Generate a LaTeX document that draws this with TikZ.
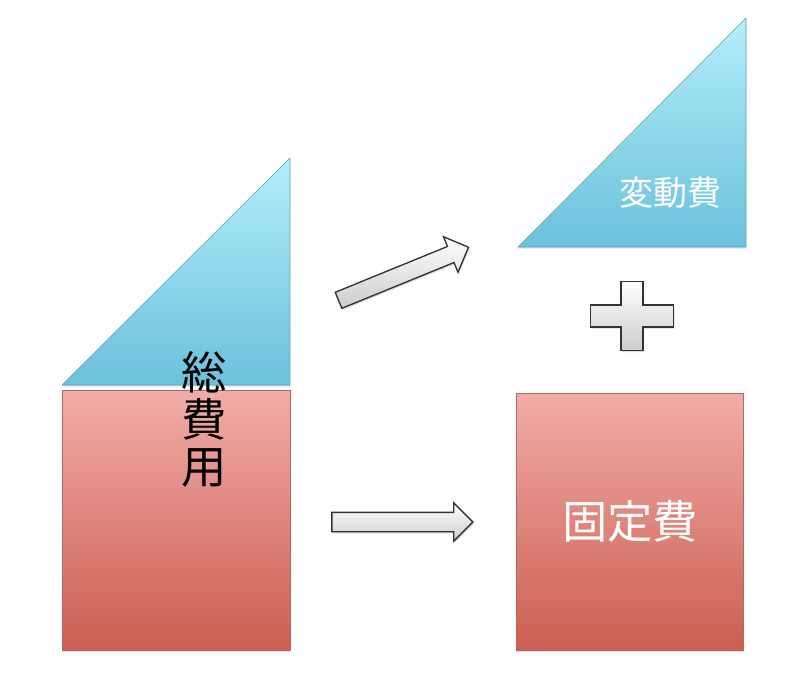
\documentclass[tikz,border=0pt]{standalone}
\usepackage{fontspec}
\setmainfont{Noto Sans CJK JP}
\usetikzlibrary{positioning,shapes.arrows,shadows}

\definecolor{skytop}{HTML}{B3EEFB}
\definecolor{skybot}{HTML}{6BC1DB}
\definecolor{rosetop}{HTML}{F2ADA8}
\definecolor{rosebot}{HTML}{CB5E51}

\tikzset{
  varwedge/.style={draw=skybot!85!black,line width=0.4pt,top color=skytop,bottom color=skybot,
    drop shadow={shadow xshift=0pt,shadow yshift=-1.2pt,opacity=0.25}},
  fixedbox/.style={rectangle,draw=rosebot!70!gray,line width=0.4pt,top color=rosetop,bottom color=rosebot,
    inner sep=0pt,drop shadow={shadow xshift=0pt,shadow yshift=-1.2pt,opacity=0.25}},
  blockarrow/.style={single arrow,draw=black!80,line width=1pt,top color=white,bottom color=black!20,
    inner xsep=0pt,minimum width=27.75pt,
    drop shadow={shadow xshift=0.8pt,shadow yshift=-1.2pt,opacity=0.3}},
  plussign/.style={draw=black!80,line width=1pt,top color=white,bottom color=black!20,
    drop shadow={shadow xshift=0.8pt,shadow yshift=-1.2pt,opacity=0.3}}
}

\begin{document}
\begin{tikzpicture}[x=0.75pt,y=-0.75pt]
\useasboundingbox (0,0) rectangle (792,683);

% total cost
\draw[varwedge] (62,385) -- (290,385) -- (290,158) -- cycle;
\node[fixedbox,minimum width=171pt,minimum height=195pt] (fixedL) at (176,520) {};
\node[align=center,font=\fontsize{34}{35}\selectfont] (total) at (204,419.5) {総\\費\\用};

% split parts
\draw[varwedge] (518,247) -- (746,247) -- (746,18) -- cycle;
\node[text=white,font=\fontsize{25.5}{28}\selectfont] (var) at (670,193) {変動費};
\node[fixedbox,minimum width=170.5pt,minimum height=192.75pt,text=white,
  font=\fontsize{34}{36}\selectfont] (fixedR) at (630,521.5) {固定費};

% arrows
\node[blockarrow,minimum height=105.3pt,inner ysep=6pt,single arrow head extend=7.9pt,
  rotate=22.2] (arrowV) at (399.5,275.4) {};
\node[blockarrow,minimum height=105.75pt,inner ysep=6.75pt,single arrow head extend=7.1pt]
  (arrowF) at (397.5,522) {};

% plus
\coordinate (plus) at (632,316);
\draw[plussign] (plus) ++(-11,-34.5) -- ++(22,0) -- ++(0,23.5) -- ++(30.5,0) -- ++(0,22)
  -- ++(-30.5,0) -- ++(0,23.5) -- ++(-22,0) -- ++(0,-23.5) -- ++(-30.5,0) -- ++(0,-22)
  -- ++(30.5,0) -- cycle;

\end{tikzpicture}
\end{document}
